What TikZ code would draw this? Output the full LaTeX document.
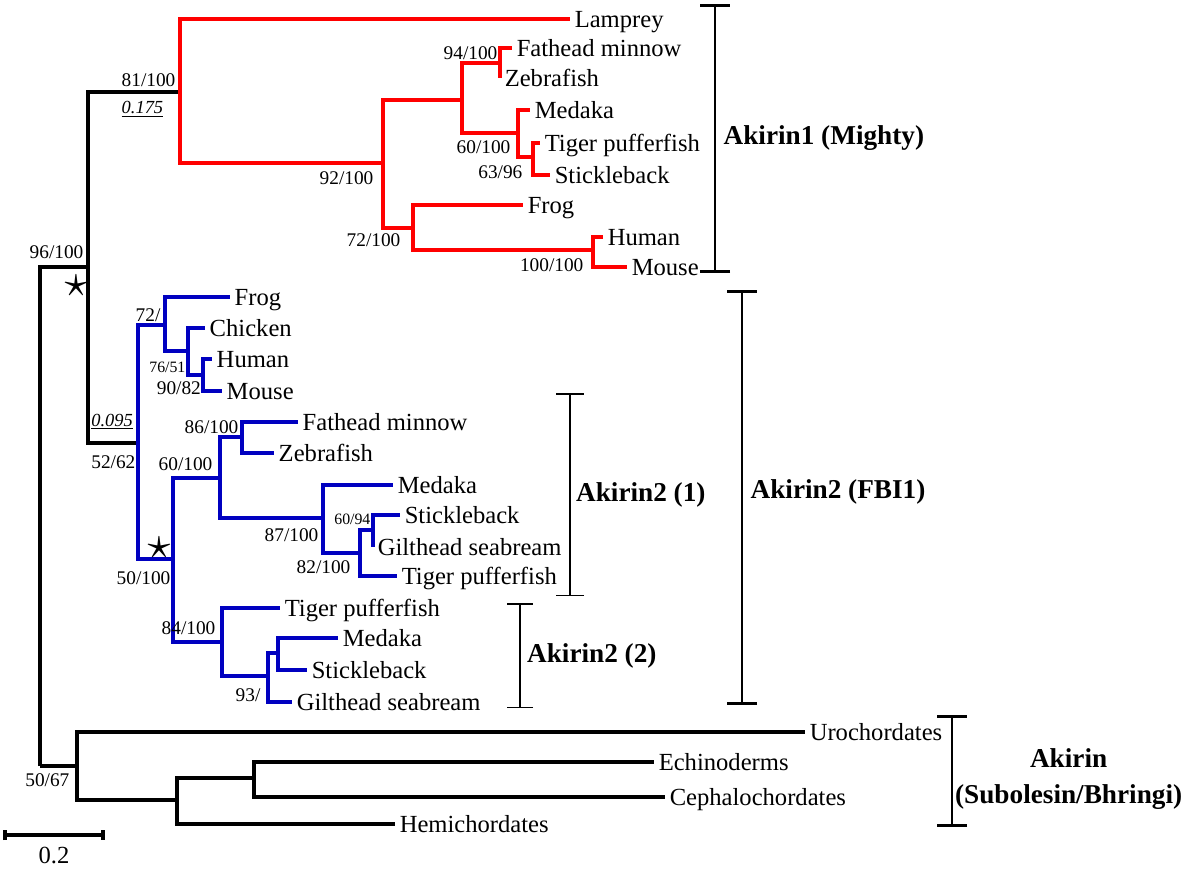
\documentclass[tikz,border=0pt]{standalone}
\usepackage{fontspec}
\setmainfont{Liberation Serif}
\usetikzlibrary{positioning,arrows.meta}
\definecolor{akred}{RGB}{255,0,0}
\definecolor{akblue}{RGB}{0,0,192}

\begin{document}
\begin{tikzpicture}[x=0.2mm, y=-0.2mm,
  br/.style={line width=2.8pt},
  leaf/.style={anchor=west, inner xsep=2.5pt, inner ysep=0pt, font=\fontsize{14}{14}\selectfont, text height=9.3pt, text depth=0pt},
  boot/.style={inner sep=1pt, font=\fontsize{11}{11}\selectfont, text height=7.5pt, text depth=0pt},
  bootsm/.style={inner sep=1pt, font=\fontsize{9}{9}\selectfont, text height=6.1pt, text depth=0pt},
  brlen/.style={inner sep=1pt, font=\fontsize{10.5}{10.5}\selectfont\itshape},
  clade/.style={inner sep=1pt, font=\fontsize{15.5}{21}\selectfont\bfseries},
  bracket/.style={line width=1.5pt, {Bar[width=6mm]}-{Bar[width=6mm]}},
  subbracket/.style={line width=0.85pt},
  scalebar/.style={line width=2.3pt, {Bar[width=2mm]}-{Bar[width=2mm]}},
  starmark/.style={inner sep=0pt}]
\useasboundingbox (0,0) rectangle (1200,874);

% backbone
\coordinate (root) at (40,766);
\coordinate (n96) at (88,267);
\coordinate (n81) at (180,92);
\coordinate (n5262) at (138,443);
\coordinate (n5067) at (77,766);

% Akirin1 (Mighty)
\coordinate (n92) at (383,163);
\coordinate (nfish) at (462,100);
\coordinate (n94) at (500,63);
\coordinate (n60a) at (518,133);
\coordinate (n63) at (533,157);
\coordinate (n72a) at (413,228);
\coordinate (n100) at (593,250);
\node[leaf] (lamprey) at (570,19) {Lamprey};
\node[leaf] (fathead1) at (512,48) {Fathead minnow};
\node[leaf] (zebra1) at (500,78) {Zebrafish};
\node[leaf] (medaka1) at (530,110) {Medaka};
\node[leaf] (tiger1) at (540,143) {Tiger pufferfish};
\node[leaf] (stickle1) at (550,175) {Stickleback};
\node[leaf] (frog1) at (523,205) {Frog};
\node[leaf] (human1) at (603,237) {Human};
\node[leaf] (mouse1) at (627,267) {Mouse};

% Akirin2 (FBI1)
\coordinate (n72b) at (165,325);
\coordinate (n76) at (188,351);
\coordinate (n90) at (203,375);
\coordinate (n50) at (173,559);
\coordinate (n60b) at (220,478);
\coordinate (n86) at (242,437);
\coordinate (n87) at (323,518);
\coordinate (n82) at (360,553);
\coordinate (n6094) at (373,530);
\coordinate (n84) at (222,642);
\coordinate (n93) at (268,676);
\coordinate (nmed) at (278,653);
\node[leaf] (frog2) at (230,297) {Frog};
\node[leaf] (chicken) at (205,328) {Chicken};
\node[leaf] (human2) at (212,359) {Human};
\node[leaf] (mouse2) at (222,391) {Mouse};
\node[leaf] (fathead2) at (298,422) {Fathead minnow};
\node[leaf] (zebra2) at (274,453) {Zebrafish};
\node[leaf] (medaka2) at (393,485) {Medaka};
\node[leaf] (stickle2) at (400,515) {Stickleback};
\node[leaf] (gilt2) at (373,547) {Gilthead seabream};
\node[leaf] (tiger2) at (397,576) {Tiger pufferfish};
\node[leaf] (tiger3) at (280,608) {Tiger pufferfish};
\node[leaf] (medaka3) at (338,638) {Medaka};
\node[leaf] (stickle3) at (307,670) {Stickleback};
\node[leaf] (gilt3) at (292,702) {Gilthead seabream};

% Akirin (Subolesin/Bhringi)
\coordinate (nlow) at (177,800);
\coordinate (nechino) at (254,778);
\node[leaf] (uro) at (805,732) {Urochordates};
\node[leaf] (echino) at (654,762) {Echinoderms};
\node[leaf] (cephalo) at (665,797) {Cephalochordates};
\node[leaf] (hemi) at (395,824) {Hemichordates};

% black branches
\draw[br] (root) |- (n96);
\draw[br] (root) -- (n5067);
\draw[br] (n96) |- (n81);
\draw[br] (n96) |- (n5262);
\draw[br] (n5067) |- (uro.west);
\draw[br] (n5067) |- (nlow);
\draw[br] (nlow) |- (nechino);
\draw[br] (nlow) |- (hemi.west);
\draw[br] (nechino) |- (echino.west);
\draw[br] (nechino) |- (cephalo.west);

% red branches
\draw[br, akred] (n81) |- (lamprey.west);
\draw[br, akred] (n81) |- (n92);
\draw[br, akred] (n92) |- (nfish);
\draw[br, akred] (n92) |- (n72a);
\draw[br, akred] (nfish) |- (n94);
\draw[br, akred] (nfish) |- (n60a);
\draw[br, akred] (n94) |- (fathead1.west);
\draw[br, akred] (n94) -- (zebra1.west);
\draw[br, akred] (n60a) |- (medaka1.west);
\draw[br, akred] (n60a) |- (n63);
\draw[br, akred] (n63) |- (tiger1.west);
\draw[br, akred] (n63) |- (stickle1.west);
\draw[br, akred] (n72a) |- (frog1.west);
\draw[br, akred] (n72a) |- (n100);
\draw[br, akred] (n100) |- (human1.west);
\draw[br, akred] (n100) |- (mouse1.west);

% blue branches
\draw[br, akblue] (n5262) |- (n72b);
\draw[br, akblue] (n5262) |- (n50);
\draw[br, akblue] (n72b) |- (frog2.west);
\draw[br, akblue] (n72b) |- (n76);
\draw[br, akblue] (n76) |- (chicken.west);
\draw[br, akblue] (n76) |- (n90);
\draw[br, akblue] (n90) |- (human2.west);
\draw[br, akblue] (n90) |- (mouse2.west);
\draw[br, akblue] (n50) |- (n60b);
\draw[br, akblue] (n50) |- (n84);
\draw[br, akblue] (n60b) |- (n86);
\draw[br, akblue] (n60b) |- (n87);
\draw[br, akblue] (n86) |- (fathead2.west);
\draw[br, akblue] (n86) |- (zebra2.west);
\draw[br, akblue] (n87) |- (medaka2.west);
\draw[br, akblue] (n87) |- (n82);
\draw[br, akblue] (n82) |- (n6094);
\draw[br, akblue] (n82) |- (tiger2.west);
\draw[br, akblue] (n6094) |- (stickle2.west);
\draw[br, akblue] (n6094) -- (gilt2.west);
\draw[br, akblue] (n84) |- (tiger3.west);
\draw[br, akblue] (n84) |- (n93);
\draw[br, akblue] (n93) |- (nmed);
\draw[br, akblue] (n93) |- (gilt3.west);
\draw[br, akblue] (nmed) |- (medaka3.west);
\draw[br, akblue] (nmed) |- (stickle3.west);

% support values and branch lengths
\node[boot, above left=1.3mm and 0.5mm of n96] (b96) {96/100};
\node[boot, above left=0.7mm and 0.5mm of n81] (b81) {81/100};
\node[brlen, below right=2.1mm and 0mm of b81.south west] (l175) {\underline{0.175}};
\node[brlen, above left=2.2mm and 0.6mm of n5262] (l095) {\underline{0.095}};
\node[boot, below left=2.1mm and 0.1mm of n5262] (b5262) {52/62};
\node[boot, below left=1.1mm and 1.1mm of n5067] (b5067) {50/67};
\node[boot, below left=1.3mm and 1.5mm of n92] (b92) {92/100};
\node[boot, above left=0.3mm and 0.1mm of n94] (b94) {94/100};
\node[boot, below left=1.1mm and 1.1mm of n60a] (b60a) {60/100};
\node[boot, below left=1.3mm and 1.7mm of n63] (b63) {63/96};
\node[boot, below left=0.7mm and 2.1mm of n72a] (b72a) {72/100};
\node[boot, below left=1.3mm and 1.5mm of n100] (b100) {100/100};
\node[boot, above left=0.3mm and 0.5mm of n72b] (b72b) {72/};
\node[bootsm, below left=1.8mm and 0.1mm of n76] (b76) {76/51};
\node[boot, below left=0.9mm and 0mm of n90] (b90) {90/82};
\node[boot, below left=2.1mm and 0.1mm of n50] (b50) {50/100};
\node[boot, above left=1.1mm and 1.1mm of n60b] (b60b) {60/100};
\node[boot, above left=0.3mm and 0.3mm of n86] (b86) {86/100};
\node[boot, below left=1.7mm and 0.5mm of n87] (b87) {87/100};
\node[boot, below left=1.1mm and 1.5mm of n82] (b82) {82/100};
\node[bootsm, above left=0.6mm and 0.1mm of n6094] (b6094) {60/94};
\node[boot, above left=1.1mm and 0.9mm of n84] (b84) {84/100};
\node[boot, below left=2.1mm and 1.1mm of n93] (b93) {93/};

% stars
\node[starmark] (st1) at (76,286) {\scalebox{2.6}{$\star$}};
\node[starmark] (st2) at (159,548) {\scalebox{2.6}{$\star$}};

% clade brackets
\draw[bracket] (715,4) -- coordinate[midway] (mk1) (715,273);
\node[clade, right=1.3mm of mk1] (akirin1) {Akirin1 (Mighty)};
\draw[bracket] (742,290) -- coordinate[midway] (mk2) (742,705);
\node[clade, right=1.3mm of mk2, yshift=1.2mm] (akirin2) {Akirin2 (FBI1)};
\draw[subbracket, {Bar[width=5.6mm]}-{Bar[width=5.6mm]}] (570,393) -- coordinate[midway] (mk3) (570,596);
\node[clade, right=0.8mm of mk3] (akirin2a) {Akirin2 (1)};
\draw[subbracket, {Bar[width=5.2mm]}-{Bar[width=5.2mm]}] (520,603) -- coordinate[midway] (mk4) (520,708);
\node[clade, right=1mm of mk4] (akirin2b) {Akirin2 (2)};
\draw[bracket] (952,715) -- coordinate[midway] (mk5) (952,827);
\node[clade, align=center, right=0.2mm of mk5, yshift=-1.6mm] (akirin) {Akirin\\(Subolesin/Bhringi)};

% scale bar
\coordinate (sbl) at (3,835);
\coordinate (sbr) at (105,835);
\draw[scalebar] (sbl) -- coordinate[midway] (sbm) (sbr);
\node[inner sep=1pt, font=\fontsize{14}{14}\selectfont, text height=9.3pt, text depth=0pt, below=2mm of sbm] (sblabel) {0.2};
\end{tikzpicture}
\end{document}
